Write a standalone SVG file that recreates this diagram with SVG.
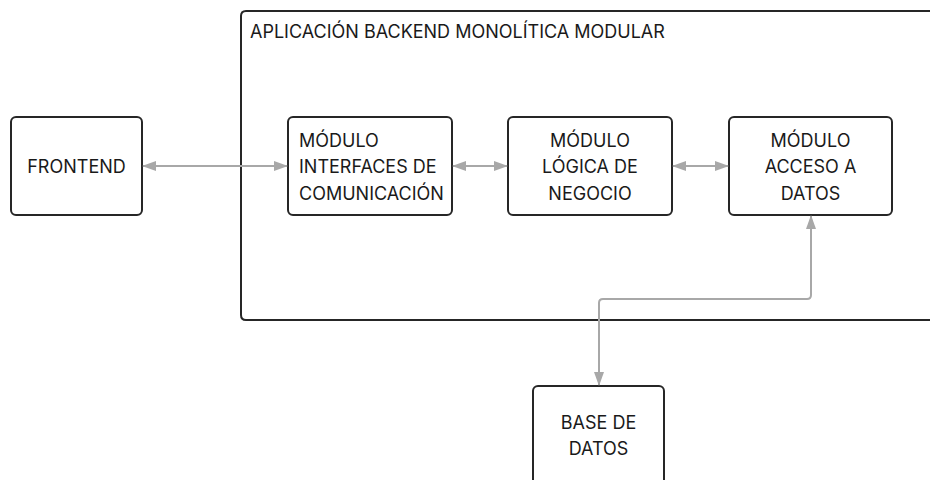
<svg xmlns="http://www.w3.org/2000/svg" width="930" height="480" viewBox="0 0 930 480">
  <defs>
    <marker id="head" viewBox="0 0 14 10" refX="13" refY="5" markerWidth="14" markerHeight="10" markerUnits="userSpaceOnUse" orient="auto-start-reverse">
      <path d="M0,0 L14,5 L0,10 Z" fill="#a8a8a8"/>
    </marker>
    <style>
      .box { fill: #ffffff; stroke: #262626; stroke-width: 2; }
      .frame { fill: none; stroke: #262626; stroke-width: 2; }
      .lbl { font-family: Inter, "Noto Sans", sans-serif; font-size: 18px; fill: #1a1a1a; }
      .mid { text-anchor: middle; }
      .wire { fill: none; stroke: #a8a8a8; stroke-width: 2; }
    </style>
  </defs>
  <rect width="930" height="480" fill="#ffffff"/>

  <g id="backend">
    <path class="frame" d="M940,11 H246 Q241,11 241,16 V315 Q241,320 246,320 H940"/>
    <text class="lbl" x="250" y="38">APLICACIÓN BACKEND MONOLÍTICA MODULAR</text>
  </g>

  <g id="frontend">
    <rect class="box" x="11" y="117" width="131" height="98" rx="5"/>
    <text class="lbl mid" x="76.5" y="173">FRONTEND</text>
  </g>

  <g id="interfaces">
    <rect class="box" x="288" y="117" width="164" height="98" rx="5"/>
    <text class="lbl" x="299" y="147">MÓDULO</text>
    <text class="lbl" x="299" y="173">INTERFACES DE</text>
    <text class="lbl" x="299" y="199.5">COMUNICACIÓN</text>
  </g>

  <g id="logica">
    <rect class="box" x="508" y="117" width="164" height="98" rx="5"/>
    <text class="lbl mid" x="590" y="147">MÓDULO</text>
    <text class="lbl mid" x="590" y="173">LÓGICA DE</text>
    <text class="lbl mid" x="590" y="199.5">NEGOCIO</text>
  </g>

  <g id="acceso">
    <rect class="box" x="729" y="117" width="163" height="98" rx="5"/>
    <text class="lbl mid" x="810.5" y="147">MÓDULO</text>
    <text class="lbl mid" x="810.5" y="173">ACCESO A</text>
    <text class="lbl mid" x="810.5" y="199.5">DATOS</text>
  </g>

  <g id="basedatos">
    <rect class="box" x="533" y="386" width="131" height="110" rx="5"/>
    <text class="lbl mid" x="598.5" y="428.5">BASE DE</text>
    <text class="lbl mid" x="598.5" y="454.5">DATOS</text>
  </g>

  <g id="connectors">
    <path class="wire" d="M143,166 H287" marker-start="url(#head)" marker-end="url(#head)"/>
    <path class="wire" d="M453,166 H507" marker-start="url(#head)" marker-end="url(#head)"/>
    <path class="wire" d="M673,166 H728" marker-start="url(#head)" marker-end="url(#head)"/>
    <path class="wire" d="M811,216 V295 Q811,299 807,299 H603 Q599,299 599,303 V385" marker-start="url(#head)" marker-end="url(#head)"/>
  </g>
</svg>
